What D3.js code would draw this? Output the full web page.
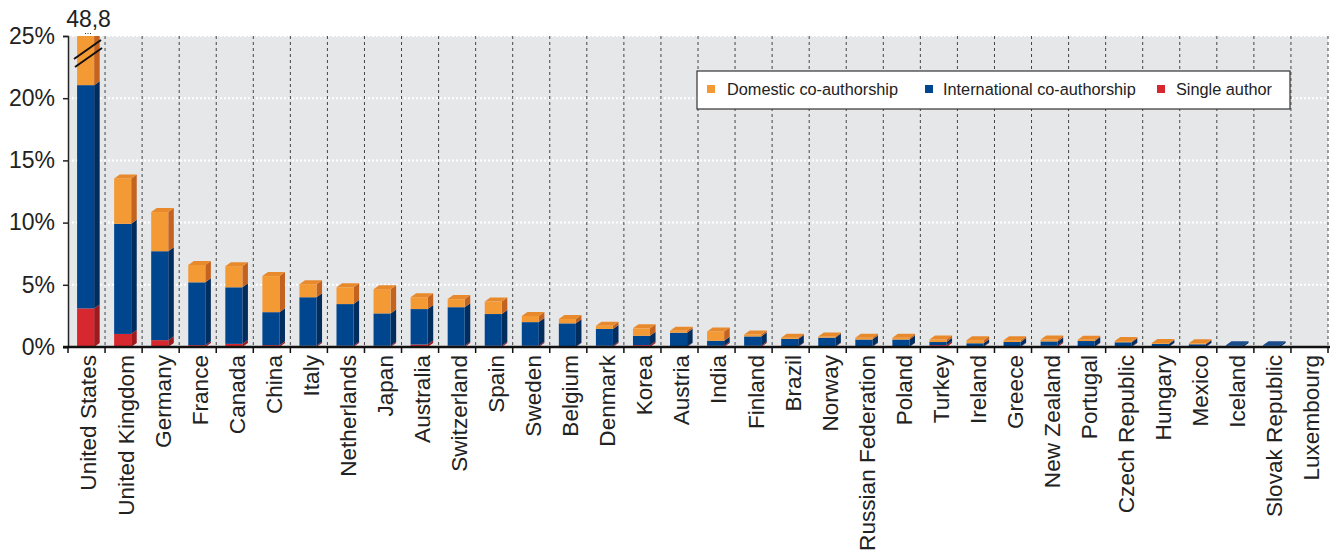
<!DOCTYPE html>
<html><head><meta charset="utf-8">
<script src="https://cdn.jsdelivr.net/npm/d3@7"></script>
<style>body{margin:0;background:#fff}svg{display:block}</style>
</head><body>
<svg id="chart" width="1338" height="555"></svg>
<script>
const countries = ["United States","United Kingdom","Germany","France","Canada","China","Italy","Netherlands","Japan","Australia","Switzerland","Spain","Sweden","Belgium","Denmark","Korea","Austria","India","Finland","Brazil","Norway","Russian Federation","Poland","Turkey","Ireland","Greece","New Zealand","Portugal","Czech Republic","Hungary","Mexico","Iceland","Slovak Republic","Luxembourg"];
const single        = [3.1,1.05,0.55,0.15,0.25,0.15,0.1,0.1,0.1,0.2,0.1,0.1,0.1,0.05,0.1,0.15,0.05,0.1,0.1,0.05,0.05,0.05,0.03,0.15,0.05,0.05,0.1,0.05,0.05,0.03,0.03,0,0,0];
const international = [17.95,8.85,7.15,5.05,4.55,2.65,3.9,3.35,2.6,2.85,3.1,2.55,1.9,1.85,1.35,0.75,1.1,0.4,0.75,0.6,0.7,0.55,0.57,0.25,0.25,0.35,0.35,0.43,0.33,0.22,0.19,0.14,0.14,0];
const domestic      = [27.75,3.65,3.15,1.4,1.7,2.9,1.05,1.35,1.95,0.95,0.65,1.0,0.5,0.35,0.25,0.6,0.15,0.75,0.15,0.1,0.1,0.15,0.15,0.2,0.25,0.15,0.15,0.1,0.1,0.08,0.08,0,0,0];
const usTotalLabel = "48,8";
const yTicks = [0,5,10,15,20,25];
const seriesNames = ["Domestic co-authorship","International co-authorship","Single author"];

const svg = d3.select("#chart");
const font = "'Liberation Sans', Arial, Helvetica, sans-serif";
const pLeft = 68, pRight = 1328, pTop = 36, pBottom = 347;

const x = d3.scaleBand().domain(countries).range([pLeft, pRight]).padding(0);
const y = d3.scaleLinear().domain([0, 25]).range([pBottom, pTop]);
const bw = x.bandwidth();

const colors = {
  single: {front:"#D6282E", side:"#9E1A1F", top:"#C22228"},
  international: {front:"#00468F", side:"#002C5E", top:"#1B4D8C"},
  domestic: {front:"#F49A35", side:"#C4621F", top:"#E88A2C"}
};

svg.append("rect").attr("x", pLeft).attr("y", pTop).attr("width", pRight-pLeft).attr("height", pBottom-pTop).attr("fill", "#E6E7E9");

svg.append("g").selectAll("line").data(yTicks.filter(d=>d>0)).join("line")
  .attr("x1", pLeft).attr("x2", pRight).attr("y1", d=>y(d)).attr("y2", d=>y(d))
  .attr("stroke", "#fff").attr("stroke-width", 2).attr("stroke-dasharray", "2,2");

const bounds = d3.range(1, countries.length+1).map(i => pLeft + i*bw);
svg.append("g").selectAll("line").data(bounds).join("line")
  .attr("x1", d=>d).attr("x2", d=>d).attr("y1", pTop).attr("y2", pBottom)
  .attr("stroke", "#444").attr("stroke-width", 1).attr("stroke-dasharray", "3,3");

svg.append("clipPath").attr("id","plotclip").append("rect")
  .attr("x", pLeft).attr("y", pTop).attr("width", pRight-pLeft+10).attr("height", pBottom-pTop+2);

const bars = svg.append("g").attr("clip-path","url(#plotclip)");
const fOff = bw*0.245, fW = bw*0.46, dx = bw*0.15, dy = 4;

countries.forEach((c, i) => {
  const segs = [
    {k:"single", v:single[i]},
    {k:"international", v:international[i]},
    {k:"domestic", v:domestic[i]}
  ];
  let cum = 0;
  const x0 = x(c) + fOff, x1 = x0 + fW;
  const g = bars.append("g");
  let lastTop = null, lastKey = null;
  segs.forEach(s => {
    if (s.v <= 0) return;
    const yb = y(cum), yt = y(cum + s.v);
    cum += s.v;
    const col = colors[s.k];
    g.append("polygon").attr("points", `${x1},${yb} ${x1+dx},${yb-dy} ${x1+dx},${yt-dy} ${x1},${yt}`).attr("fill", col.side);
    g.append("rect").attr("x", x0).attr("y", yt).attr("width", fW).attr("height", yb-yt).attr("fill", col.front);
    lastTop = yt; lastKey = s.k;
  });
  if (lastTop !== null) {
    const col = colors[lastKey];
    g.append("polygon").attr("points", `${x0},${lastTop} ${x0+dx},${lastTop-dy} ${x1+dx},${lastTop-dy} ${x1},${lastTop}`).attr("fill", col.top);
  }
});

const usx = x(countries[0]);
[[0,0],[1,8]].forEach(([ox, oy]) => {
  svg.append("line").attr("x1", usx+6+ox).attr("y1", 59+oy).attr("x2", usx+33+ox).attr("y2", 40+oy)
    .attr("stroke", "#111").attr("stroke-width", 2);
});
svg.append("line").attr("x1", usx+17).attr("x2", usx+24).attr("y1", 33.5).attr("y2", 33.5)
  .attr("stroke", "#333").attr("stroke-width", 1.2).attr("stroke-dasharray", "1,1.5");
svg.append("text").attr("x", usx + bw/2 + 2).attr("y", 27).attr("text-anchor","middle")
  .attr("font-family", font).attr("font-size", 23).attr("fill", "#222").text(usTotalLabel);

const yAxis = svg.append("g").attr("transform", `translate(${pLeft},0)`)
  .call(d3.axisLeft(y).tickValues(yTicks).tickFormat(d => d + "%").tickSize(5).tickPadding(8));
yAxis.select(".domain").attr("stroke", "#222").attr("stroke-width", 1.5);
yAxis.selectAll(".tick line").attr("stroke", "#222").attr("stroke-width", 1.5);
yAxis.selectAll("text").attr("font-family", font).attr("font-size", 23).attr("fill", "#222");

svg.append("line").attr("x1", pLeft-5).attr("x2", pRight+2).attr("y1", pBottom).attr("y2", pBottom)
  .attr("stroke", "#111").attr("stroke-width", 2.5);
svg.append("g").selectAll("line").data([pLeft, ...bounds]).join("line")
  .attr("x1", d=>d).attr("x2", d=>d).attr("y1", pBottom).attr("y2", pBottom+6)
  .attr("stroke", "#111").attr("stroke-width", 1.5);
svg.append("g").selectAll("text").data(countries).join("text")
  .attr("transform", d => `translate(${x(d)+bw/2+2},${pBottom+8}) rotate(-90)`)
  .attr("text-anchor", "end").attr("dy", "0.35em")
  .attr("font-family", font).attr("font-size", 22.6).attr("fill", "#222")
  .text(d => d);

const lg = svg.append("g");
lg.append("rect").attr("x", 697).attr("y", 71).attr("width", 593).attr("height", 38)
  .attr("fill", "#fff").attr("stroke", "#333").attr("stroke-width", 1.2);
const legItems = [
  {name: seriesNames[0], color: colors.domestic.front, mx: 707, tx: 727},
  {name: seriesNames[1], color: colors.international.front, mx: 925, tx: 943},
  {name: seriesNames[2], color: colors.single.front, mx: 1157, tx: 1176}
];
legItems.forEach(it => {
  lg.append("rect").attr("x", it.mx).attr("y", 85).attr("width", 8).attr("height", 8).attr("fill", it.color);
  lg.append("text").attr("x", it.tx).attr("y", 95).attr("font-family", font).attr("font-size", 16.3)
    .attr("fill", "#222").text(it.name);
});
</script>
</body></html>
